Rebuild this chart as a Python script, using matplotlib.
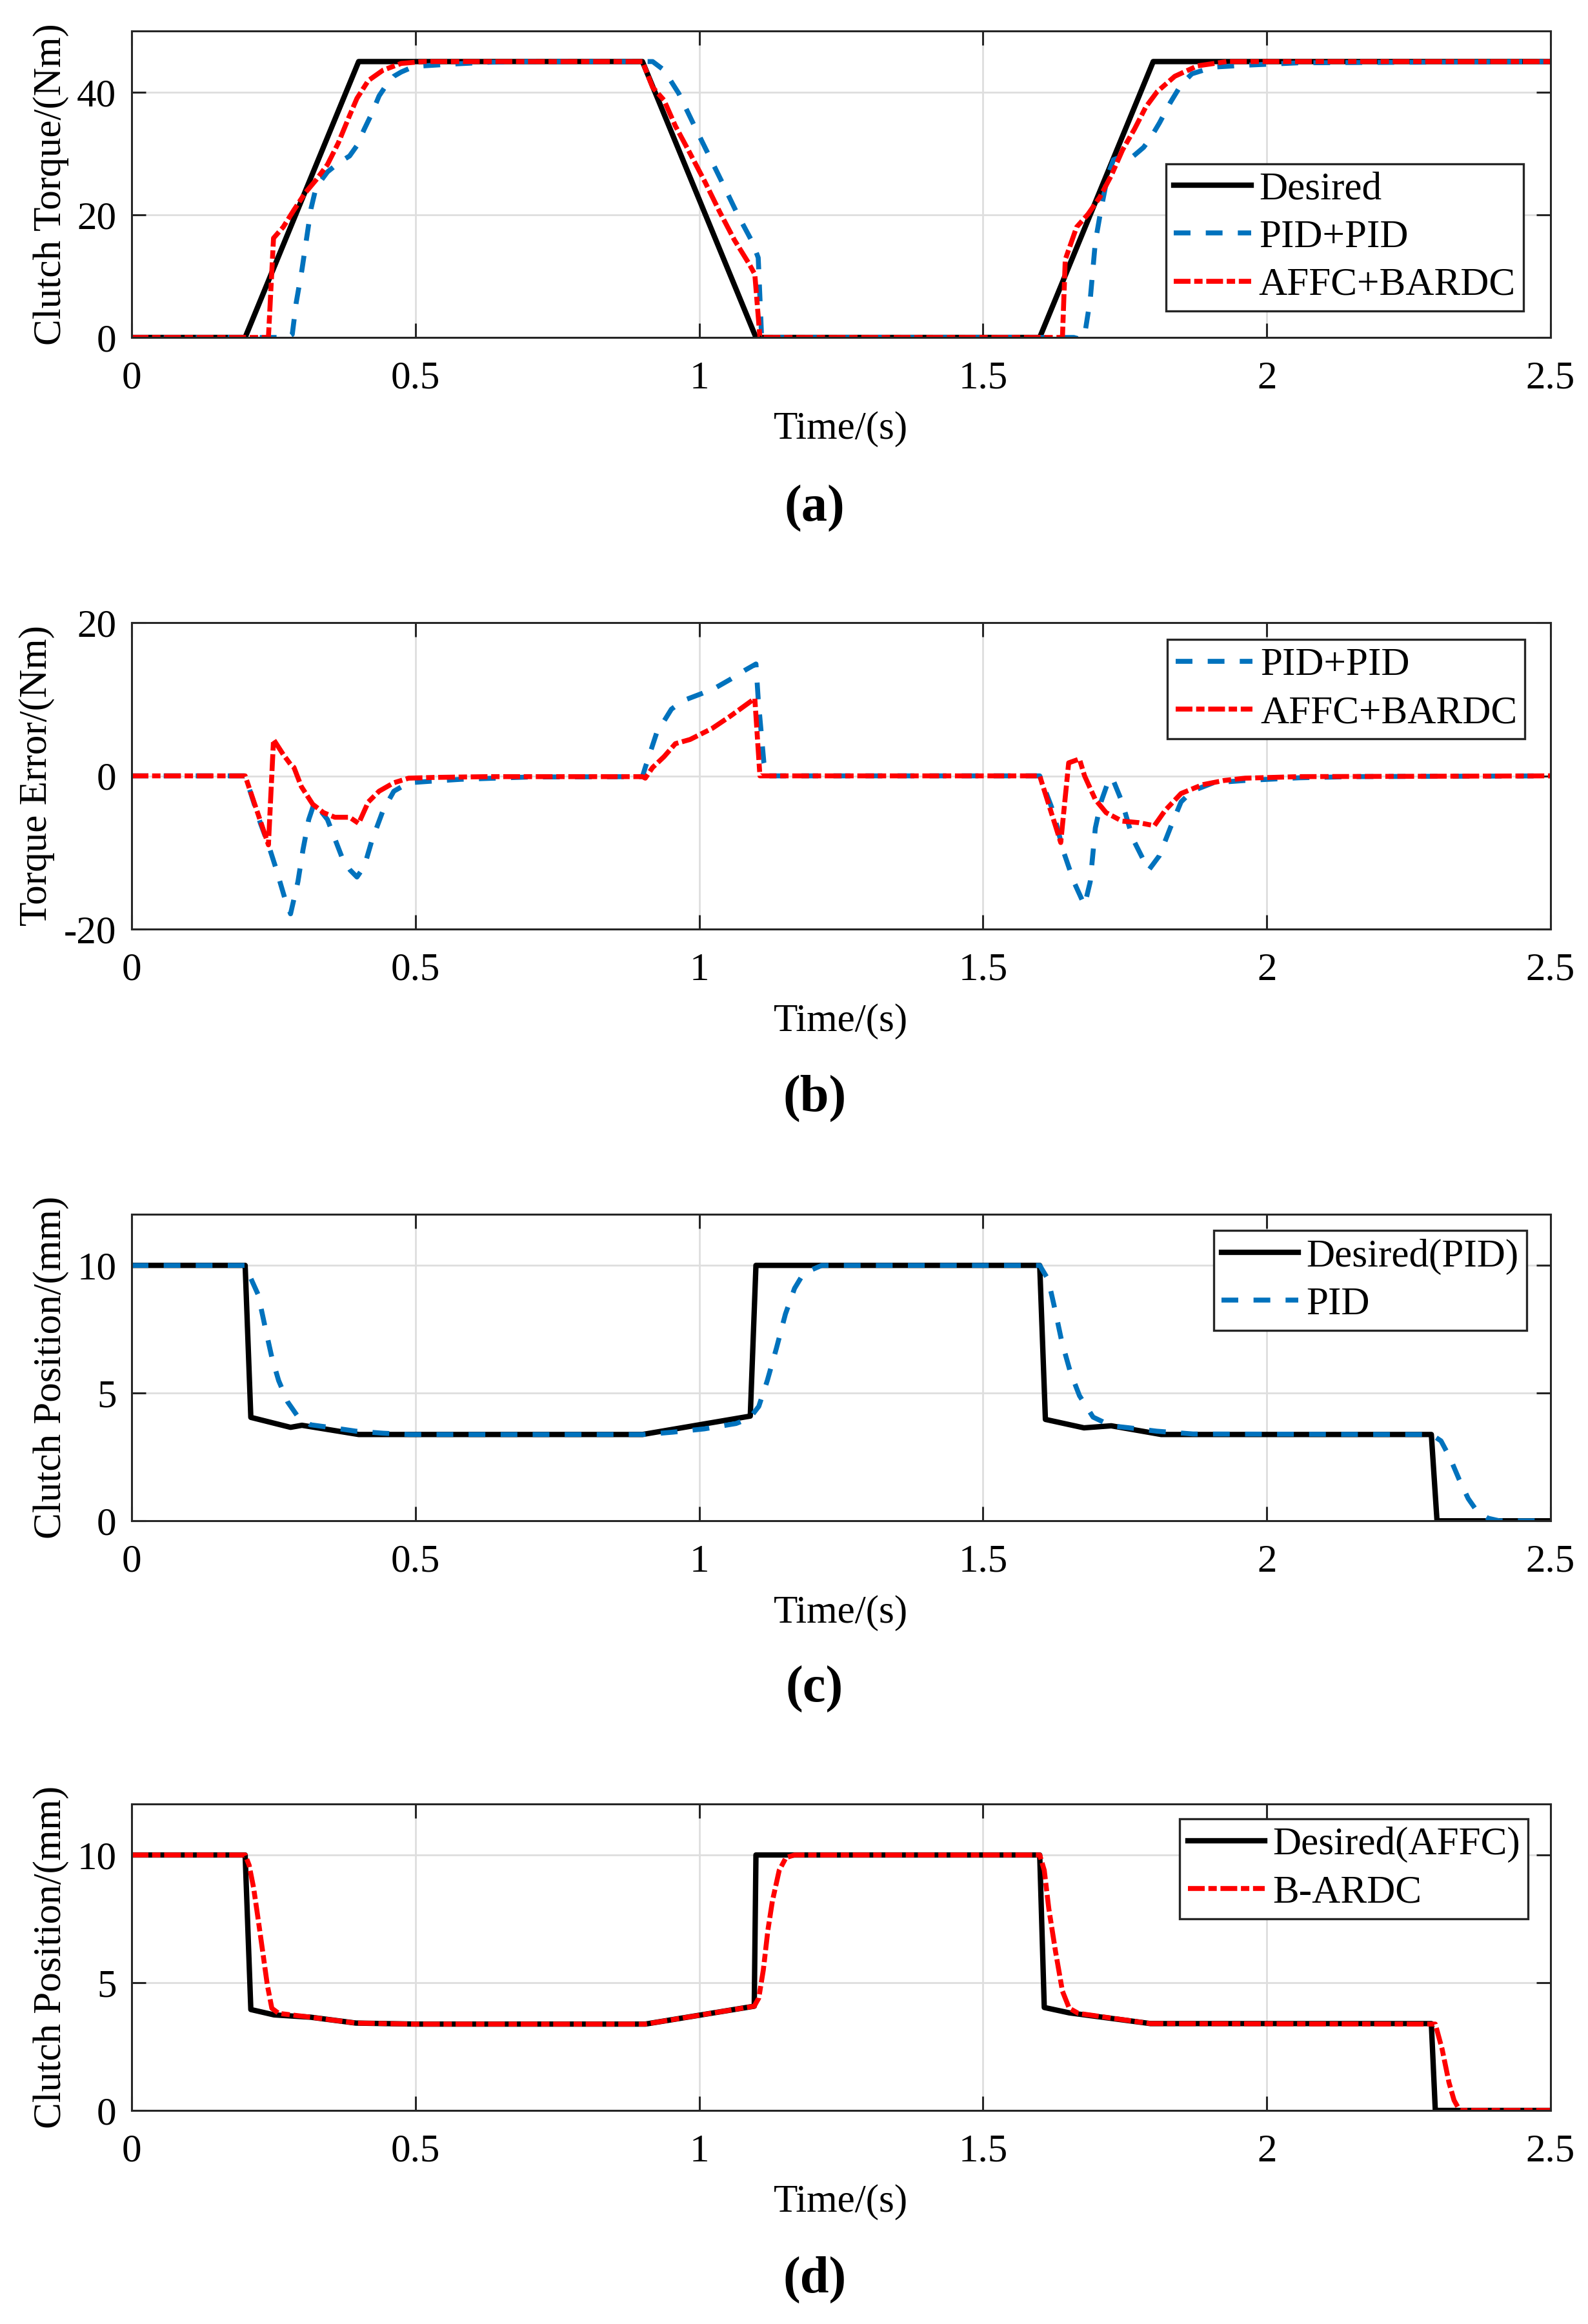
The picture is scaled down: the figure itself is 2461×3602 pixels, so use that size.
import matplotlib
matplotlib.use('Agg')
import matplotlib.pyplot as plt

plt.rcParams['font.family'] = ['Liberation Serif', 'DejaVu Serif']
plt.rcParams['axes.unicode_minus'] = False

# ---- (a) clutch torque ----
t_des_a = [0, 0.2, 0.4, 0.9, 1.1, 1.6, 1.8, 2.5]
y_des_a = [0, 0, 45, 45, 0, 0, 45, 45]

t_pid_a = [0, 0.275, 0.283, 0.29, 0.3, 0.308, 0.316, 0.325, 0.345, 0.365, 0.384, 0.397,
           0.41, 0.423, 0.436, 0.449, 0.462, 0.475, 0.49, 0.514, 0.566, 0.632, 0.7, 0.918,
           0.938, 0.964, 0.99, 1.016, 1.042, 1.068, 1.094, 1.104, 1.11, 1.6, 1.66, 1.672,
           1.68, 1.689, 1.698, 1.708, 1.72, 1.73, 1.745, 1.764, 1.783, 1.795, 1.811, 1.83,
           1.849, 1.868, 1.906, 1.962, 2.057, 2.5]
y_pid_a = [0, 0, 0.5, 5.7, 11, 16, 21, 24.5, 27, 28.5, 29.6, 31.3,
           34, 36.5, 39.4, 41.2, 42.6, 43.3, 43.9, 44.3, 44.6, 44.9, 45, 45,
           43.6, 39.8, 34.8, 29.9, 25, 20, 15.5, 13, 0, 0, 0, -0.3,
           0.9, 6.2, 15.6, 20.9, 26.5, 29, 29.5, 29.5, 31, 32.5, 35, 38.3,
           41.2, 43, 44.1, 44.4, 44.8, 45]

t_affc_a = [0, 0.241, 0.25, 0.267, 0.286, 0.306, 0.325, 0.345, 0.364, 0.384, 0.397, 0.417,
            0.443, 0.475, 0.514, 0.9, 0.918, 0.938, 0.958, 0.984, 1.01, 1.036, 1.062, 1.088,
            1.098, 1.107, 1.64, 1.645, 1.665, 1.685, 1.706, 1.726, 1.746, 1.767, 1.787, 1.807,
            1.838, 1.878, 1.93, 2.5]
y_affc_a = [0, 0, 16.2, 18, 20.8, 23.6, 25.7, 28.2, 31.7, 36.2, 39, 41.9,
            43.6, 44.7, 45, 45, 40.8, 38.7, 34.5, 30, 25.4, 20.5, 15.9, 12,
            10.3, 0, 0, 12.7, 18, 20.1, 22.9, 26.4, 30.6, 34, 37.6, 40.1,
            42.6, 44.3, 45, 45]

# ---- (b) torque error ----
t_pid_b = [0, 0.2, 0.227, 0.241, 0.254, 0.27, 0.28, 0.293, 0.302, 0.312, 0.322, 0.345,
           0.358, 0.371, 0.385, 0.397, 0.41, 0.423, 0.443, 0.462, 0.488, 0.527, 0.58, 0.7,
           0.9, 0.905, 0.925, 0.951, 0.971, 1.003, 1.029, 1.055, 1.081, 1.1, 1.104, 1.114,
           1.12, 1.6, 1.623, 1.642, 1.66, 1.679, 1.689, 1.698, 1.708, 1.722, 1.728, 1.745,
           1.764, 1.783, 1.792, 1.811, 1.83, 1.849, 1.868, 1.906, 1.962, 2.057, 2.15, 2.5]
e_pid_b = [0, 0, -6.2, -9, -12, -16, -18, -13.8, -9.6, -5.7, -3.5, -5.7,
           -8.2, -10.7, -12.3, -13.2, -11.8, -8.5, -4.5, -2, -0.9, -0.7, -0.45, -0.15,
           -0.1, 1.1, 5.6, 8.7, 9.8, 10.7, 11.5, 12.6, 13.8, 14.6, 10, 1.7,
           0, 0, -4.5, -9.9, -13.8, -16.9, -13.8, -6.8, -3.4, -0.45, -0.3, -3.4,
           -8.2, -11, -12.3, -10.4, -6.8, -3.4, -2, -0.9, -0.6, -0.25, -0.1, 0]

t_affc_b = [0, 0.2, 0.241, 0.25, 0.267, 0.28, 0.286, 0.299, 0.319, 0.338, 0.358, 0.384,
            0.4, 0.417, 0.436, 0.462, 0.488, 0.534, 0.63, 0.9, 0.905, 0.918, 0.938, 0.958,
            0.984, 1.023, 1.055, 1.098, 1.107, 1.6, 1.637, 1.651, 1.67, 1.679, 1.698, 1.717,
            1.745, 1.774, 1.802, 1.821, 1.849, 1.887, 1.925, 1.962, 2.057, 2.5]
e_affc_b = [0, 0, -9, 4.75, 2.8, 1.5, 1.1, -1.4, -3.7, -4.8, -5.4, -5.4,
            -6.2, -3.4, -2, -0.9, -0.3, -0.2, -0.1, -0.1, -0.3, 1.1, 2.5, 4.2,
            4.75, 6.2, 7.8, 10.1, 0, 0, -8.7, 1.7, 2.2, 0, -3.1, -4.8,
            -5.9, -6.1, -6.5, -4.5, -2.3, -1.15, -0.6, -0.3, -0.1, 0]

# ---- (c) clutch position, PID ----
t_des_c = [0, 0.2, 0.21, 0.28, 0.3, 0.4, 0.9, 1.09, 1.1, 1.6, 1.61, 1.678, 1.726, 1.814,
           2.29, 2.3, 2.5]
y_des_c = [10, 10, 4.05, 3.66, 3.74, 3.38, 3.38, 4.1, 10, 10, 3.97, 3.64, 3.72, 3.38,
           3.38, 0, 0]

t_pid_c = [0, 0.2, 0.211, 0.223, 0.235, 0.247, 0.259, 0.275, 0.291, 0.315, 0.355, 0.395,
           0.443, 0.49, 0.905, 0.953, 1.009, 1.065, 1.089, 1.105, 1.12, 1.136, 1.152, 1.168,
           1.184, 1.216, 1.6, 1.615, 1.627, 1.639, 1.654, 1.67, 1.694, 1.726, 1.758, 1.806,
           1.87, 2.29, 2.307, 2.323, 2.339, 2.355, 2.371, 2.39, 2.41, 2.5]
y_pid_c = [10, 10, 9.44, 8.85, 7.6, 6.4, 5.49, 4.65, 4.14, 3.76, 3.64, 3.51,
           3.43, 3.38, 3.38, 3.47, 3.6, 3.81, 4.02, 4.48, 5.49, 6.75, 8.1, 9.1,
           9.69, 10, 10, 9.44, 8.26, 7.0, 5.82, 4.9, 4.06, 3.72, 3.64, 3.51,
           3.4, 3.38, 3.13, 2.46, 1.62, 0.87, 0.36, 0.1, 0, 0]

# ---- (d) clutch position, AFFC ----
t_des_d = [0, 0.2, 0.21, 0.251, 0.315, 0.395, 0.5, 0.905, 1.097, 1.1, 1.6, 1.608, 1.652,
           1.795, 2.29, 2.297, 2.5]
y_des_d = [10, 10, 3.95, 3.74, 3.65, 3.42, 3.38, 3.38, 4.08, 10, 10, 4.03, 3.82,
           3.4, 3.4, 0, 0]

t_bardc_d = [0, 0.2, 0.207, 0.215, 0.223, 0.231, 0.239, 0.247, 0.259, 0.315, 0.395, 0.5,
             0.905, 1.097, 1.105, 1.113, 1.121, 1.129, 1.141, 1.153, 1.168, 1.6, 1.608, 1.616,
             1.628, 1.64, 1.652, 1.668, 1.795, 2.297, 2.309, 2.321, 2.33, 2.34, 2.5]
y_bardc_d = [10, 10, 9.6, 8.7, 7.47, 6.2, 4.92, 4.0, 3.8, 3.65, 3.42, 3.38,
             3.38, 4.08, 4.4, 5.5, 7.05, 8.2, 9.4, 9.9, 10, 10, 9.4, 7.9,
             6.2, 4.67, 4.0, 3.8, 3.4, 3.38, 2.4, 1.1, 0.4, 0, 0]

x_ticks = [0, 0.5, 1, 1.5, 2, 2.5]
x_tick_labels = ['0', '0.5', '1', '1.5', '2', '2.5']

BLUE = '#0072BD'
RED = '#FF0000'
FS = 44
LW = 5.5
dash_pid = (3.4, 3.1)
dash_affc = (3.4, 0.75, 1.7, 0.75)

fig = plt.figure(figsize=(24.61, 36.02), dpi=100)
left, width, height = 0.0829, 0.8935, 0.1319
bottoms = [0.8548, 0.6002, 0.3456, 0.0919]
axs = [fig.add_axes([left, b, width, height]) for b in bottoms]


def style(ax, ylim, yticks, ylabel, ylab_x):
    ax.set_xlim(0, 2.5)
    ax.set_ylim(*ylim)
    ax.set_xticks(x_ticks)
    ax.set_xticklabels(x_tick_labels)
    ax.set_yticks(yticks)
    ax.set_yticklabels([str(v) for v in yticks])
    ax.grid(True, color='#DEDEDE', lw=2)
    ax.set_axisbelow(True)
    for s in ax.spines.values():
        s.set_color('#262626')
        s.set_linewidth(2.2)
    ax.tick_params(direction='in', length=16, width=2.2, color='#262626',
                   top=True, right=True, labelsize=FS)
    ax.tick_params(axis='x', pad=26)
    ax.tick_params(axis='y', pad=17)
    ax.set_xlabel('Time/(s)', fontsize=FS, va='center')
    ax.xaxis.set_label_coords(0.5, -0.3)
    ax.set_ylabel(ylabel, fontsize=FS, va='center')
    ax.yaxis.set_label_coords(ylab_x, 0.5)


def legend(ax, loc, anchor):
    lg = ax.legend(loc=loc, bbox_to_anchor=anchor, fontsize=FS, frameon=True,
                   fancybox=False, framealpha=1, edgecolor='#262626',
                   handlelength=1.95, handletextpad=0.2, borderpad=0.2,
                   labelspacing=0.3, borderaxespad=0)
    lg.get_frame().set_linewidth(2.4)


# (a)
ax = axs[0]
ax.plot(t_des_a, y_des_a, color='black', lw=LW + 0.5, label='Desired')
ax.plot(t_pid_a, y_pid_a, color=BLUE, lw=LW, dashes=dash_pid, label='PID+PID')
ax.plot(t_affc_a, y_affc_a, color=RED, lw=LW, dashes=dash_affc, label='AFFC+BARDC')
style(ax, (0, 50), [0, 20, 40], 'Clutch Torque/(Nm)', -0.057)
legend(ax, 'lower right', (0.981, 0.086))

# (b)
ax = axs[1]
ax.plot(t_pid_b, e_pid_b, color=BLUE, lw=LW, dashes=dash_pid, label='PID+PID')
ax.plot(t_affc_b, e_affc_b, color=RED, lw=LW, dashes=dash_affc, label='AFFC+BARDC')
style(ax, (-20, 20), [-20, 0, 20], 'Torque Error/(Nm)', -0.067)
legend(ax, 'upper right', (0.982, 0.945))

# (c)
ax = axs[2]
ax.plot(t_des_c, y_des_c, color='black', lw=LW + 0.5, label='Desired(PID)')
ax.plot(t_pid_c, y_pid_c, color=BLUE, lw=LW, dashes=dash_pid, label='PID')
style(ax, (0, 12), [0, 5, 10], 'Clutch Position/(mm)', -0.057)
legend(ax, 'upper right', (0.983, 0.947))

# (d)
ax = axs[3]
ax.plot(t_des_d, y_des_d, color='black', lw=LW + 0.5, label='Desired(AFFC)')
ax.plot(t_bardc_d, y_bardc_d, color=RED, lw=LW, dashes=dash_affc, label='B-ARDC')
style(ax, (0, 12), [0, 5, 10], 'Clutch Position/(mm)', -0.057)
legend(ax, 'upper right', (0.984, 0.951))

for lab, y in zip(['(a)', '(b)', '(c)', '(d)'], [0.781, 0.5275, 0.273, 0.019]):
    fig.text(0.513, y, lab, fontsize=58, fontweight='bold', ha='center', va='center')

fig.savefig('out.png', dpi=100)
